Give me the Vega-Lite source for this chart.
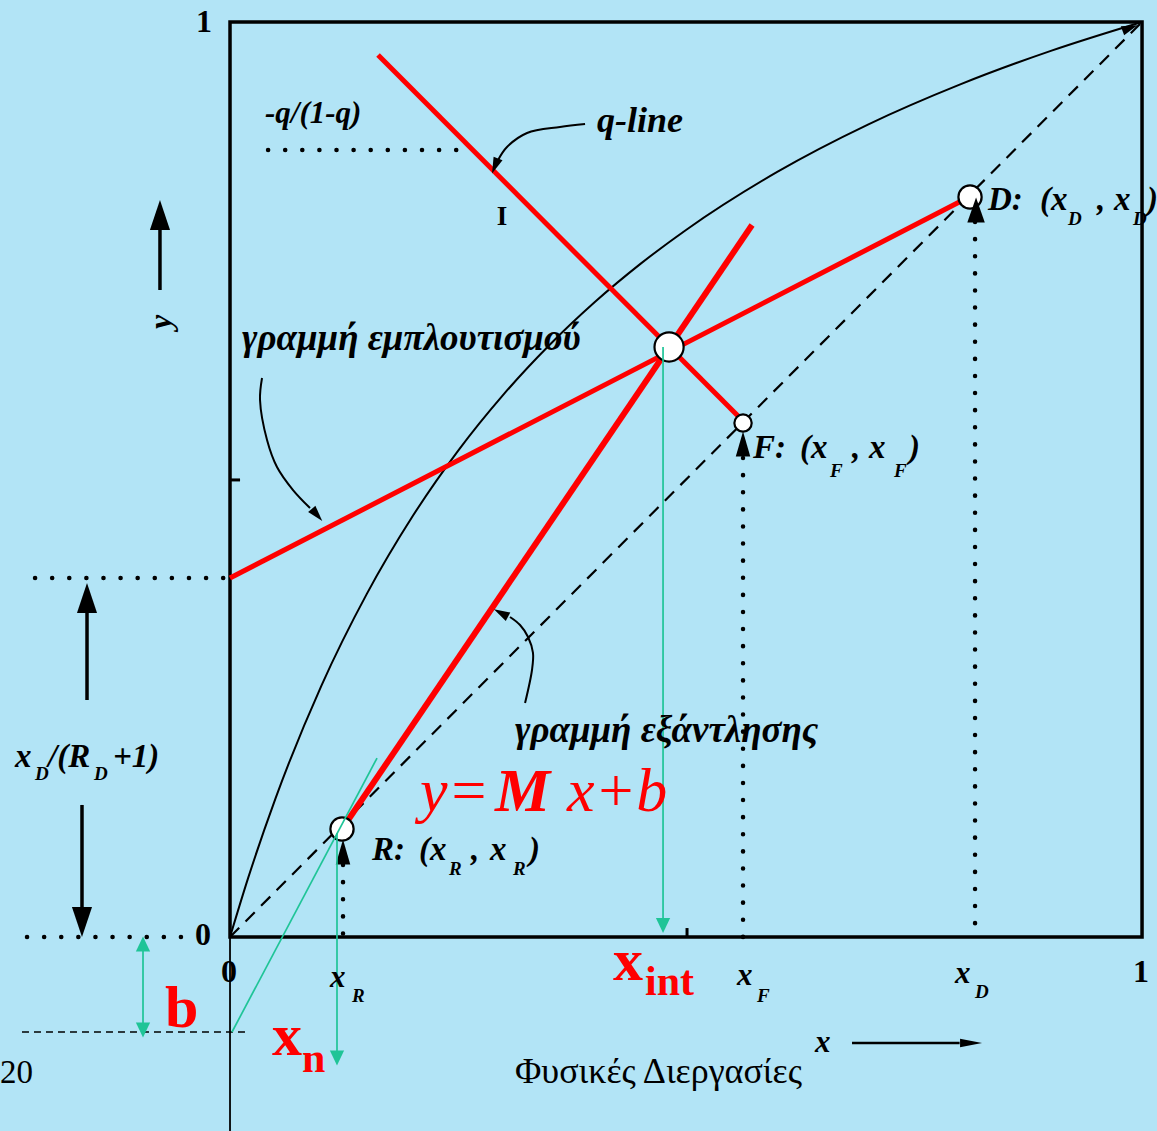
{
  "$schema": "https://vega.github.io/schema/vega-lite/v6.json",
  "width": 1157,
  "height": 1131,
  "autosize": "none",
  "padding": 0,
  "background": "#b2e4f6",
  "config": {"view": {"stroke": null}},
  "encoding": {
    "x": {"field": "x", "type": "quantitative", "scale": {"domain": [-0.2522, 1.0164], "nice": false, "zero": false}, "axis": null},
    "y": {"field": "y", "type": "quantitative", "scale": {"domain": [-0.212, 1.024], "nice": false, "zero": false}, "axis": null}
  },
  "layer": [
    {
      "data": {"values": [{"x": 0, "y": 0, "x2": 1, "y2": 1}]},
      "mark": {"type": "rect", "fillOpacity": 0, "stroke": "black", "strokeWidth": 3.5},
      "encoding": {"x2": {"field": "x2"}, "y2": {"field": "y2"}}
    },
    {
      "data": {"values": [
        {"x": 0, "y": 0.4995, "x2": 0.011, "y2": 0.4995},
        {"x": 0.5011, "y": 0, "x2": 0.5011, "y2": 0.0098}
      ]},
      "mark": {"type": "rule", "color": "black", "strokeWidth": 3},
      "encoding": {"x2": {"field": "x2"}, "y2": {"field": "y2"}}
    },
    {
      "data": {"values": [{"x": 0, "y": 0, "x2": 0, "y2": -0.212}]},
      "mark": {"type": "rule", "color": "black", "strokeWidth": 1.8},
      "encoding": {"x2": {"field": "x2"}, "y2": {"field": "y2"}}
    },
    {
      "data": {"values": [{"x": -0.2281, "y": -0.1038, "x2": 0.0219, "y2": -0.1038}]},
      "mark": {"type": "rule", "color": "black", "strokeWidth": 1.3, "strokeDash": [7, 5]},
      "encoding": {"x2": {"field": "x2"}, "y2": {"field": "y2"}}
    },
    {
      "data": {"values": [{"x": 0, "y": 0, "x2": 1, "y2": 1}]},
      "mark": {"type": "rule", "color": "black", "strokeWidth": 2.2, "strokeDash": [13, 9]},
      "encoding": {"x2": {"field": "x2"}, "y2": {"field": "y2"}}
    },
    {
      "data": {"values": [
        {"x": 0.0417, "y": 0.8601, "x2": 0.2522, "y2": 0.8601},
        {"x": -0.2138, "y": 0.3923, "x2": 0, "y2": 0.3923},
        {"x": -0.2226, "y": 0, "x2": -0.0384, "y2": 0},
        {"x": 0.8169, "y": 0.7814, "x2": 0.8169, "y2": 0},
        {"x": 0.5625, "y": 0.5235, "x2": 0.5625, "y2": 0},
        {"x": 0.1239, "y": 0.0787, "x2": 0.1239, "y2": 0}
      ]},
      "mark": {"type": "rule", "color": "black", "strokeWidth": 4.5, "strokeDash": [0.1, 17], "strokeCap": "round"},
      "encoding": {"x2": {"field": "x2"}, "y2": {"field": "y2"}}
    },
    {
      "data": {"values": [
        {"o": 0, "x": 0, "y": 0},
        {"o": 1, "x": 0.02, "y": 0.0649},
        {"o": 2, "x": 0.05, "y": 0.1518},
        {"o": 3, "x": 0.1, "y": 0.2742},
        {"o": 4, "x": 0.15, "y": 0.375},
        {"o": 5, "x": 0.2, "y": 0.4595},
        {"o": 6, "x": 0.25, "y": 0.5313},
        {"o": 7, "x": 0.3, "y": 0.593},
        {"o": 8, "x": 0.35, "y": 0.6467},
        {"o": 9, "x": 0.4, "y": 0.6939},
        {"o": 10, "x": 0.45, "y": 0.7356},
        {"o": 11, "x": 0.5, "y": 0.7727},
        {"o": 12, "x": 0.6, "y": 0.8361},
        {"o": 13, "x": 0.7, "y": 0.8881},
        {"o": 14, "x": 0.8, "y": 0.9315},
        {"o": 15, "x": 0.9, "y": 0.9684},
        {"o": 16, "x": 1, "y": 1}
      ]},
      "mark": {"type": "line", "color": "black", "strokeWidth": 2, "interpolate": "monotone"},
      "encoding": {"order": {"field": "o"}}
    },
    {
      "data": {"values": [
        {"g": "qa", "o": 0, "x": 0.3893, "y": 0.8885},
        {"g": "qa", "o": 1, "x": 0.3618, "y": 0.8852},
        {"g": "qa", "o": 2, "x": 0.3257, "y": 0.8787},
        {"g": "qa", "o": 3, "x": 0.3037, "y": 0.8634},
        {"g": "qa", "o": 4, "x": 0.2939, "y": 0.8492},
        {"g": "ea", "o": 0, "x": 0.0351, "y": 0.6109},
        {"g": "ea", "o": 1, "x": 0.0329, "y": 0.5869},
        {"g": "ea", "o": 2, "x": 0.0406, "y": 0.5432},
        {"g": "ea", "o": 3, "x": 0.0515, "y": 0.5137},
        {"g": "ea", "o": 4, "x": 0.0691, "y": 0.4885},
        {"g": "ea", "o": 5, "x": 0.0877, "y": 0.4689},
        {"g": "sa", "o": 0, "x": 0.3235, "y": 0.2557},
        {"g": "sa", "o": 1, "x": 0.3311, "y": 0.2918},
        {"g": "sa", "o": 2, "x": 0.3322, "y": 0.3104},
        {"g": "sa", "o": 3, "x": 0.3268, "y": 0.3279},
        {"g": "sa", "o": 4, "x": 0.318, "y": 0.341},
        {"g": "sa", "o": 5, "x": 0.307, "y": 0.3497}
      ]},
      "mark": {"type": "line", "color": "black", "strokeWidth": 2, "interpolate": "catmull-rom"},
      "encoding": {"detail": {"field": "g"}, "order": {"field": "o"}}
    },
    {
      "data": {"values": [
        {"x": 0.1623, "y": 0.9639, "x2": 0.5614, "y2": 0.565},
        {"x": 0, "y": 0.3923, "x2": 0.8103, "y2": 0.8087}
      ]},
      "mark": {"type": "rule", "color": "#ff0000", "strokeWidth": 5},
      "encoding": {"x2": {"field": "x2"}, "y2": {"field": "y2"}}
    },
    {
      "data": {"values": [{"x": 0.1228, "y": 0.118, "x2": 0.5724, "y2": 0.7781}]},
      "mark": {"type": "rule", "color": "#ff0000", "strokeWidth": 6},
      "encoding": {"x2": {"field": "x2"}, "y2": {"field": "y2"}}
    },
    {
      "data": {"values": [
        {"x": -0.0768, "y": 0.7071, "x2": -0.0768, "y2": 0.785},
        {"x": -0.1568, "y": 0.259, "x2": -0.1568, "y2": 0.365},
        {"x": -0.1623, "y": 0.1443, "x2": -0.1623, "y2": 0.025}
      ]},
      "mark": {"type": "rule", "color": "black", "strokeWidth": 3.5},
      "encoding": {"x2": {"field": "x2"}, "y2": {"field": "y2"}}
    },
    {
      "data": {"values": [{"x": 0.682, "y": -0.1158, "x2": 0.8, "y2": -0.1158}]},
      "mark": {"type": "rule", "color": "black", "strokeWidth": 2.5},
      "encoding": {"x2": {"field": "x2"}, "y2": {"field": "y2"}}
    },
    {
      "data": {"values": [
        {"x": -0.0768, "y": 0.7891, "a": -90},
        {"x": -0.1568, "y": 0.3705, "a": -90},
        {"x": -0.1623, "y": 0.0164, "a": 90}
      ]},
      "mark": {"type": "point", "shape": "M1,0L-1,0.67L-1,-0.67Z", "filled": true, "color": "black", "opacity": 1, "size": 900},
      "encoding": {"angle": {"field": "a", "type": "quantitative", "scale": null}}
    },
    {
      "data": {"values": [
        {"x": 0.2906, "y": 0.8426, "a": 112},
        {"x": 0.0954, "y": 0.4612, "a": 49},
        {"x": 0.2971, "y": 0.3541, "a": 208},
        {"x": 0.9868, "y": 0.9934, "a": -20}
      ]},
      "mark": {"type": "point", "shape": "M1,0L-1,0.6L-1,-0.6Z", "filled": true, "color": "black", "opacity": 1, "size": 256},
      "encoding": {"angle": {"field": "a", "type": "quantitative", "scale": null}}
    },
    {
      "data": {"values": [{"x": 0.8125, "y": -0.1158}]},
      "mark": {"type": "point", "shape": "M1,0L-1,0.38L-1,-0.38Z", "filled": true, "color": "black", "opacity": 1, "size": 484}
    },
    {
      "data": {"values": [{"x": 0.4814, "y": 0.6448}]},
      "mark": {"type": "point", "shape": "circle", "filled": true, "fill": "white", "stroke": "black", "strokeWidth": 2.2, "opacity": 1, "size": 850}
    },
    {
      "data": {"values": [{"x": 0.8114, "y": 0.8087}, {"x": 0.1228, "y": 0.118}]},
      "mark": {"type": "point", "shape": "circle", "filled": true, "fill": "white", "stroke": "black", "strokeWidth": 2.2, "opacity": 1, "size": 540}
    },
    {
      "data": {"values": [{"x": 0.5625, "y": 0.5617}]},
      "mark": {"type": "point", "shape": "circle", "filled": true, "fill": "white", "stroke": "black", "strokeWidth": 2.2, "opacity": 1, "size": 300}
    },
    {
      "data": {"values": [{"x": 0.818, "y": 0.7945}]},
      "mark": {"type": "point", "shape": "M1,0L-1,0.7L-1,-0.7Z", "angle": -90, "filled": true, "color": "black", "opacity": 1, "size": 625}
    },
    {
      "data": {"values": [
        {"x": 0.5625, "y": 0.5388},
        {"x": 0.1239, "y": 0.0929}
      ]},
      "mark": {"type": "point", "shape": "M1,0L-1,0.58L-1,-0.58Z", "angle": -90, "filled": true, "color": "black", "opacity": 1, "size": 625}
    },
    {
      "data": {"values": [
        {"x": 0.4748, "y": 0.6448, "x2": 0.4748, "y2": 0.02},
        {"x": 0.1173, "y": 0.1137, "x2": 0.1173, "y2": -0.127},
        {"x": -0.0954, "y": -0.0142, "x2": -0.0954, "y2": -0.0962},
        {"x": 0.1612, "y": 0.1956, "x2": 0.0022, "y2": -0.1038}
      ]},
      "mark": {"type": "rule", "color": "#1fc497", "strokeWidth": 1.7},
      "encoding": {"x2": {"field": "x2"}, "y2": {"field": "y2"}}
    },
    {
      "data": {"values": [
        {"x": 0.4748, "y": 0.0126, "a": 90},
        {"x": 0.1173, "y": -0.1322, "a": 90},
        {"x": -0.0954, "y": -0.0077, "a": -90},
        {"x": -0.0954, "y": -0.1016, "a": 90}
      ]},
      "mark": {"type": "point", "shape": "M1,0L-1,0.95L-1,-0.95Z", "filled": true, "color": "#1fc497", "opacity": 1, "size": 225},
      "encoding": {"angle": {"field": "a", "type": "quantitative", "scale": null}}
    },
    {
      "data": {"values": [
        {"x": 0.0384, "y": 0.8896, "t": "-q/(1-q)"},
        {"x": 0.1096, "y": -0.0546, "t": "x"},
        {"x": 0.5559, "y": -0.0525, "t": "x"},
        {"x": 0.795, "y": -0.0503, "t": "x"},
        {"x": 0.6414, "y": -0.1257, "t": "x"}
      ]},
      "mark": {"type": "text", "align": "left", "baseline": "alphabetic", "font": "Liberation Serif", "fontStyle": "italic", "fontWeight": "bold", "fontSize": 31, "color": "black"},
      "encoding": {"text": {"field": "t"}}
    },
    {
      "data": {"values": [{"x": 0.4024, "y": 0.8798, "t": "q-line"}]},
      "mark": {"type": "text", "align": "left", "baseline": "alphabetic", "font": "Liberation Serif", "fontStyle": "italic", "fontWeight": "bold", "fontSize": 36, "color": "black"},
      "encoding": {"text": {"field": "t"}}
    },
    {
      "data": {"values": [
        {"x": 0.0132, "y": 0.6415, "t": "γραμμή εμπλουτισμού"},
        {"x": 0.3125, "y": 0.2131, "t": "γραμμή εξάντλησης"}
      ]},
      "mark": {"type": "text", "align": "left", "baseline": "alphabetic", "font": "Liberation Serif", "fontStyle": "italic", "fontWeight": "bold", "fontSize": 37, "color": "black"},
      "encoding": {"text": {"field": "t"}}
    },
    {
      "data": {"values": [
        {"x": 0.8311, "y": 0.7945, "t": "D:"},
        {"x": 0.8882, "y": 0.7945, "t": "(x"},
        {"x": 0.9507, "y": 0.7945, "t": ","},
        {"x": 0.9693, "y": 0.7945, "t": "x"},
        {"x": 1.0055, "y": 0.7945, "t": ")"},
        {"x": 0.5735, "y": 0.5235, "t": "F:"},
        {"x": 0.625, "y": 0.5235, "t": "(x"},
        {"x": 0.682, "y": 0.5235, "t": ","},
        {"x": 0.7007, "y": 0.5235, "t": "x"},
        {"x": 0.7445, "y": 0.5235, "t": ")"},
        {"x": 0.1557, "y": 0.0842, "t": "R:"},
        {"x": 0.2072, "y": 0.0842, "t": "(x"},
        {"x": 0.2643, "y": 0.0842, "t": ","},
        {"x": 0.2851, "y": 0.0842, "t": "x"},
        {"x": 0.3279, "y": 0.0842, "t": ")"},
        {"x": -0.2357, "y": 0.1858, "t": "x"},
        {"x": -0.1996, "y": 0.1858, "t": "/(R"},
        {"x": -0.1283, "y": 0.1858, "t": "+1)"}
      ]},
      "mark": {"type": "text", "align": "left", "baseline": "alphabetic", "font": "Liberation Serif", "fontStyle": "italic", "fontWeight": "bold", "fontSize": 33, "color": "black"},
      "encoding": {"text": {"field": "t"}}
    },
    {
      "data": {"values": [
        {"x": 0.9188, "y": 0.7781, "t": "D"},
        {"x": 0.9901, "y": 0.7781, "t": "D"},
        {"x": 0.6579, "y": 0.5027, "t": "F"},
        {"x": 0.7281, "y": 0.5027, "t": "F"},
        {"x": 0.2401, "y": 0.0678, "t": "R"},
        {"x": 0.3103, "y": 0.0678, "t": "R"},
        {"x": 0.1338, "y": -0.071, "t": "R"},
        {"x": 0.5779, "y": -0.071, "t": "F"},
        {"x": 0.8169, "y": -0.0667, "t": "D"},
        {"x": -0.2138, "y": 0.1716, "t": "D"},
        {"x": -0.1491, "y": 0.1716, "t": "D"}
      ]},
      "mark": {"type": "text", "align": "left", "baseline": "alphabetic", "font": "Liberation Serif", "fontStyle": "italic", "fontWeight": "bold", "fontSize": 19, "color": "black"},
      "encoding": {"text": {"field": "t"}}
    },
    {
      "data": {"values": [
        {"x": -0.0285, "y": 0.9891, "t": "1"},
        {"x": -0.0296, "y": -0.0087, "t": "0"},
        {"x": -0.0011, "y": -0.0492, "t": "0"},
        {"x": 0.9989, "y": -0.0492, "t": "1"}
      ]},
      "mark": {"type": "text", "align": "center", "baseline": "alphabetic", "font": "Liberation Serif", "fontWeight": "bold", "fontSize": 32, "color": "black"},
      "encoding": {"text": {"field": "t"}}
    },
    {
      "data": {"values": [{"x": 0.2982, "y": 0.7781, "t": "I"}]},
      "mark": {"type": "text", "align": "center", "baseline": "alphabetic", "font": "Liberation Serif", "fontWeight": "bold", "fontSize": 27, "color": "black"},
      "encoding": {"text": {"field": "t"}}
    },
    {
      "data": {"values": [{"x": -0.0757, "y": 0.6721, "t": "y"}]},
      "mark": {"type": "text", "align": "center", "baseline": "middle", "angle": 270, "font": "Liberation Serif", "fontStyle": "italic", "fontWeight": "bold", "fontSize": 32, "color": "black"},
      "encoding": {"text": {"field": "t"}}
    },
    {
      "data": {"values": [{"x": 0.3125, "y": -0.1596, "t": "Φυσικές Διεργασίες"}]},
      "mark": {"type": "text", "align": "left", "baseline": "alphabetic", "font": "Liberation Serif", "fontSize": 36, "color": "black"},
      "encoding": {"text": {"field": "t"}}
    },
    {
      "data": {"values": [{"x": -0.2522, "y": -0.1596, "t": "20"}]},
      "mark": {"type": "text", "align": "left", "baseline": "alphabetic", "font": "Liberation Serif", "fontSize": 33, "color": "black"},
      "encoding": {"text": {"field": "t"}}
    },
    {
      "data": {"values": [
        {"x": 0.2083, "y": 0.1377, "t": "y="},
        {"x": 0.3695, "y": 0.1377, "t": "x+b"}
      ]},
      "mark": {"type": "text", "align": "left", "baseline": "alphabetic", "font": "Liberation Serif", "fontStyle": "italic", "fontSize": 62, "color": "#ff0000"},
      "encoding": {"text": {"field": "t"}}
    },
    {
      "data": {"values": [{"x": 0.2906, "y": 0.1377, "t": "M"}]},
      "mark": {"type": "text", "align": "left", "baseline": "alphabetic", "font": "Liberation Serif", "fontStyle": "italic", "fontWeight": "bold", "fontSize": 62, "color": "#ff0000"},
      "encoding": {"text": {"field": "t"}}
    },
    {
      "data": {"values": [
        {"x": 0.42, "y": -0.047, "t": "x"},
        {"x": -0.0713, "y": -0.0984, "t": "b"},
        {"x": 0.0461, "y": -0.129, "t": "x"}
      ]},
      "mark": {"type": "text", "align": "left", "baseline": "alphabetic", "font": "Liberation Serif", "fontWeight": "bold", "fontSize": 60, "color": "#ff0000"},
      "encoding": {"text": {"field": "t"}}
    },
    {
      "data": {"values": [
        {"x": 0.455, "y": -0.0634, "t": "int"},
        {"x": 0.0789, "y": -0.1475, "t": "n"}
      ]},
      "mark": {"type": "text", "align": "left", "baseline": "alphabetic", "font": "Liberation Serif", "fontWeight": "bold", "fontSize": 42, "color": "#ff0000"},
      "encoding": {"text": {"field": "t"}}
    }
  ]
}
